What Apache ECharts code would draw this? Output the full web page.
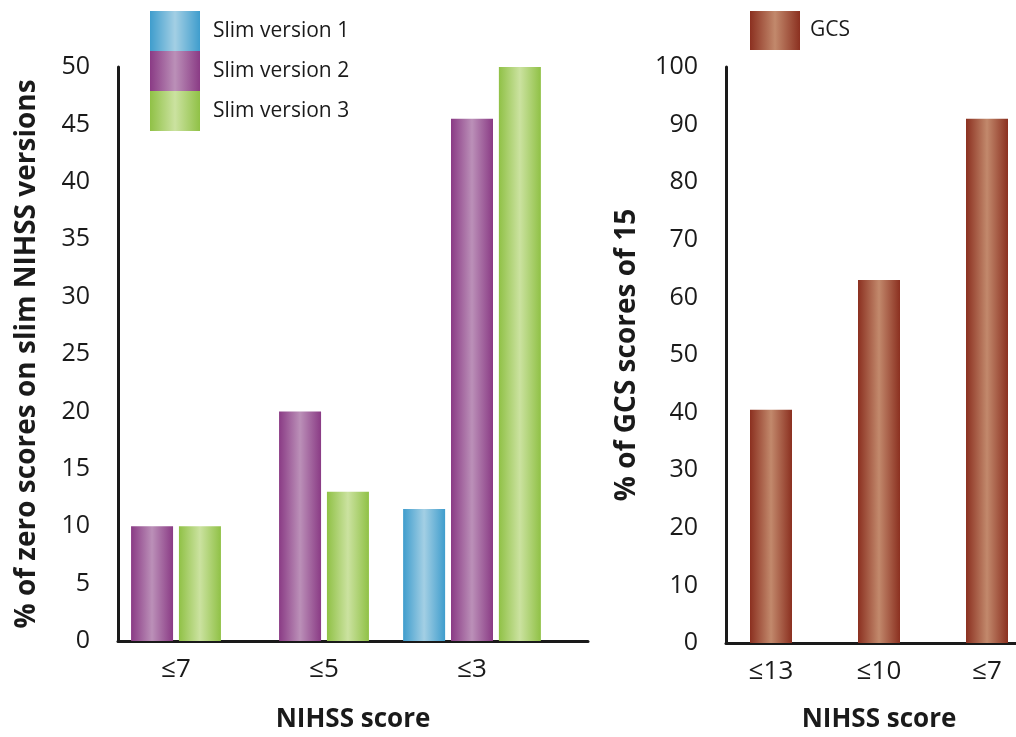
<!DOCTYPE html>
<html>
<head>
<meta charset="utf-8">
<script src="https://cdn.jsdelivr.net/npm/echarts@6/dist/echarts.min.js"></script>
<style>
html,body{margin:0;padding:0;background:#fff;}
#chart{width:1016px;height:737px;}
</style>
</head>
<body>
<div id="chart"></div>
<script>
// ---- data ----
const leftCategories = ['≤7', '≤5', '≤3'];
const slim1 = [null, null, 11.5];
const slim2 = [10, 20, 45.5];
const slim3 = [10, 13, 50];
const leftTicks = { min: 0, max: 50, interval: 5 };

const rightCategories = ['≤13', '≤10', '≤7'];
const gcs = [40.5, 63, 91];
const rightTicks = { min: 0, max: 100, interval: 10 };

const leftYTitle = '% of zero scores on slim NIHSS versions';
const rightYTitle = '% of GCS scores of 15';
const xTitle = 'NIHSS score';

// ---- styles ----
const FONT = '"Open Sans", "Noto Sans", sans-serif';
const TXT = '#1a1a1a';
function grad(dark, light) {
  return new echarts.graphic.LinearGradient(0, 0, 1, 0, [
    { offset: 0, color: dark }, { offset: 0.5, color: light }, { offset: 1, color: dark }
  ]);
}
const colV1 = grad('#3f9dcd', '#a3cfe4');
const colV2 = grad('#8a3b85', '#bb90b8');
const colV3 = grad('#90c146', '#cbe2a0');
const colGCS = grad('#8b3020', '#c2896c');

const hasV1 = slim1.map(v => v != null);
const pairOnly = vals => vals.map((v, i) => hasV1[i] ? null : v);
const tripleOnly = vals => vals.map((v, i) => hasV1[i] ? v : null);

const BARW = 42;
function bar(name, data, color, xi, yi) {
  return { type: 'bar', name, data, xAxisIndex: xi, yAxisIndex: yi, barWidth: BARW, barGap: '14%',
    itemStyle: { color }, emphasis: { disabled: true } };
}

const TICK_FS = 25, TITLE_FS = 28, XT_FS = 26, LEG_FS = 21;
const hiddenAxis = { show: false };
const g = (o) => Object.assign({ outerBoundsMode: 'none', containLabel: false }, o);
const option = {
  animation: false,
  backgroundColor: '#fff',
  textStyle: { fontFamily: FONT },
  legend: [
    { data: ['Slim version 1', 'Slim version 2', 'Slim version 3'], orient: 'vertical', left: 150, top: 11,
      padding: 0, itemGap: 0, itemWidth: 50, itemHeight: 40, icon: 'rect', selectedMode: false,
      textStyle: { fontSize: LEG_FS, color: TXT, fontFamily: FONT, padding: [10, 0, 0, 8] } },
    { data: ['GCS'], orient: 'vertical', left: 750, top: 11,
      padding: 0, itemGap: 0, itemWidth: 50, itemHeight: 39, icon: 'rect', selectedMode: false,
      textStyle: { fontSize: LEG_FS, color: TXT, fontFamily: FONT, padding: [6, 0, 0, 5] } }
  ],
  grid: [
    g({ left: 118, top: 67, width: 470, height: 574 }),   // left frame
    g({ left: 102, top: 67, width: 444, height: 574 }),   // left bars
    g({ left: 726, top: 67, width: 320, height: 576 }),   // right frame
    g({ left: 717, top: 67, width: 324, height: 576 })    // right bars
  ],
  xAxis: [
    { gridIndex: 0, type: 'category', data: leftCategories,
      axisLine: { lineStyle: { color: TXT, width: 3 } }, axisTick: { show: false }, axisLabel: { show: false },
      name: xTitle, nameLocation: 'middle', nameGap: 66,
      nameTextStyle: { fontSize: XT_FS, fontWeight: 'bold', color: TXT, fontFamily: FONT } },
    { gridIndex: 1, type: 'category', data: leftCategories,
      axisLine: { show: false }, axisTick: { show: false },
      axisLabel: { fontSize: XT_FS, color: TXT, margin: 16, fontFamily: FONT } },
    Object.assign({ gridIndex: 1, type: 'category', data: leftCategories }, hiddenAxis),
    { gridIndex: 2, type: 'category', data: rightCategories,
      axisLine: { lineStyle: { color: TXT, width: 3 } }, axisTick: { show: false }, axisLabel: { show: false } },
    { gridIndex: 3, type: 'category', data: rightCategories,
      axisLine: { show: false }, axisTick: { show: false },
      axisLabel: { fontSize: XT_FS, color: TXT, margin: 16, fontFamily: FONT },
      name: xTitle, nameLocation: 'middle', nameGap: 64,
      nameTextStyle: { fontSize: XT_FS, fontWeight: 'bold', color: TXT, fontFamily: FONT } }
  ],
  yAxis: [
    { gridIndex: 0, type: 'value', min: leftTicks.min, max: leftTicks.max, interval: leftTicks.interval,
      axisLine: { show: true, lineStyle: { color: TXT, width: 3 } }, axisTick: { show: false }, splitLine: { show: false },
      axisLabel: { fontSize: TICK_FS, color: TXT, margin: 28, fontFamily: FONT },
      name: leftYTitle, nameLocation: 'middle', nameGap: 77, nameRotate: 90,
      nameTextStyle: { fontSize: TITLE_FS, fontWeight: 'bold', color: TXT, fontFamily: FONT } },
    Object.assign({ gridIndex: 1, type: 'value', min: leftTicks.min, max: leftTicks.max }, hiddenAxis),
    { gridIndex: 2, type: 'value', min: rightTicks.min, max: rightTicks.max, interval: rightTicks.interval,
      axisLine: { show: true, lineStyle: { color: TXT, width: 3 } }, axisTick: { show: false }, splitLine: { show: false },
      axisLabel: { fontSize: TICK_FS, color: TXT, margin: 28, fontFamily: FONT },
      name: rightYTitle, nameLocation: 'middle', nameGap: 85, nameRotate: 90,
      nameTextStyle: { fontSize: TITLE_FS, fontWeight: 'bold', color: TXT, fontFamily: FONT } },
    Object.assign({ gridIndex: 3, type: 'value', min: rightTicks.min, max: rightTicks.max }, hiddenAxis)
  ],
  series: [
    bar('Slim version 2', pairOnly(slim2), colV2, 1, 1),
    bar('Slim version 3', pairOnly(slim3), colV3, 1, 1),
    bar('Slim version 1', tripleOnly(slim1), colV1, 2, 1),
    bar('Slim version 2', tripleOnly(slim2), colV2, 2, 1),
    bar('Slim version 3', tripleOnly(slim3), colV3, 2, 1),
    bar('GCS', gcs, colGCS, 4, 3)
  ]
};
const chart = echarts.init(document.getElementById('chart'), null, { renderer: 'canvas' });
chart.setOption(option);
</script>
</body>
</html>
